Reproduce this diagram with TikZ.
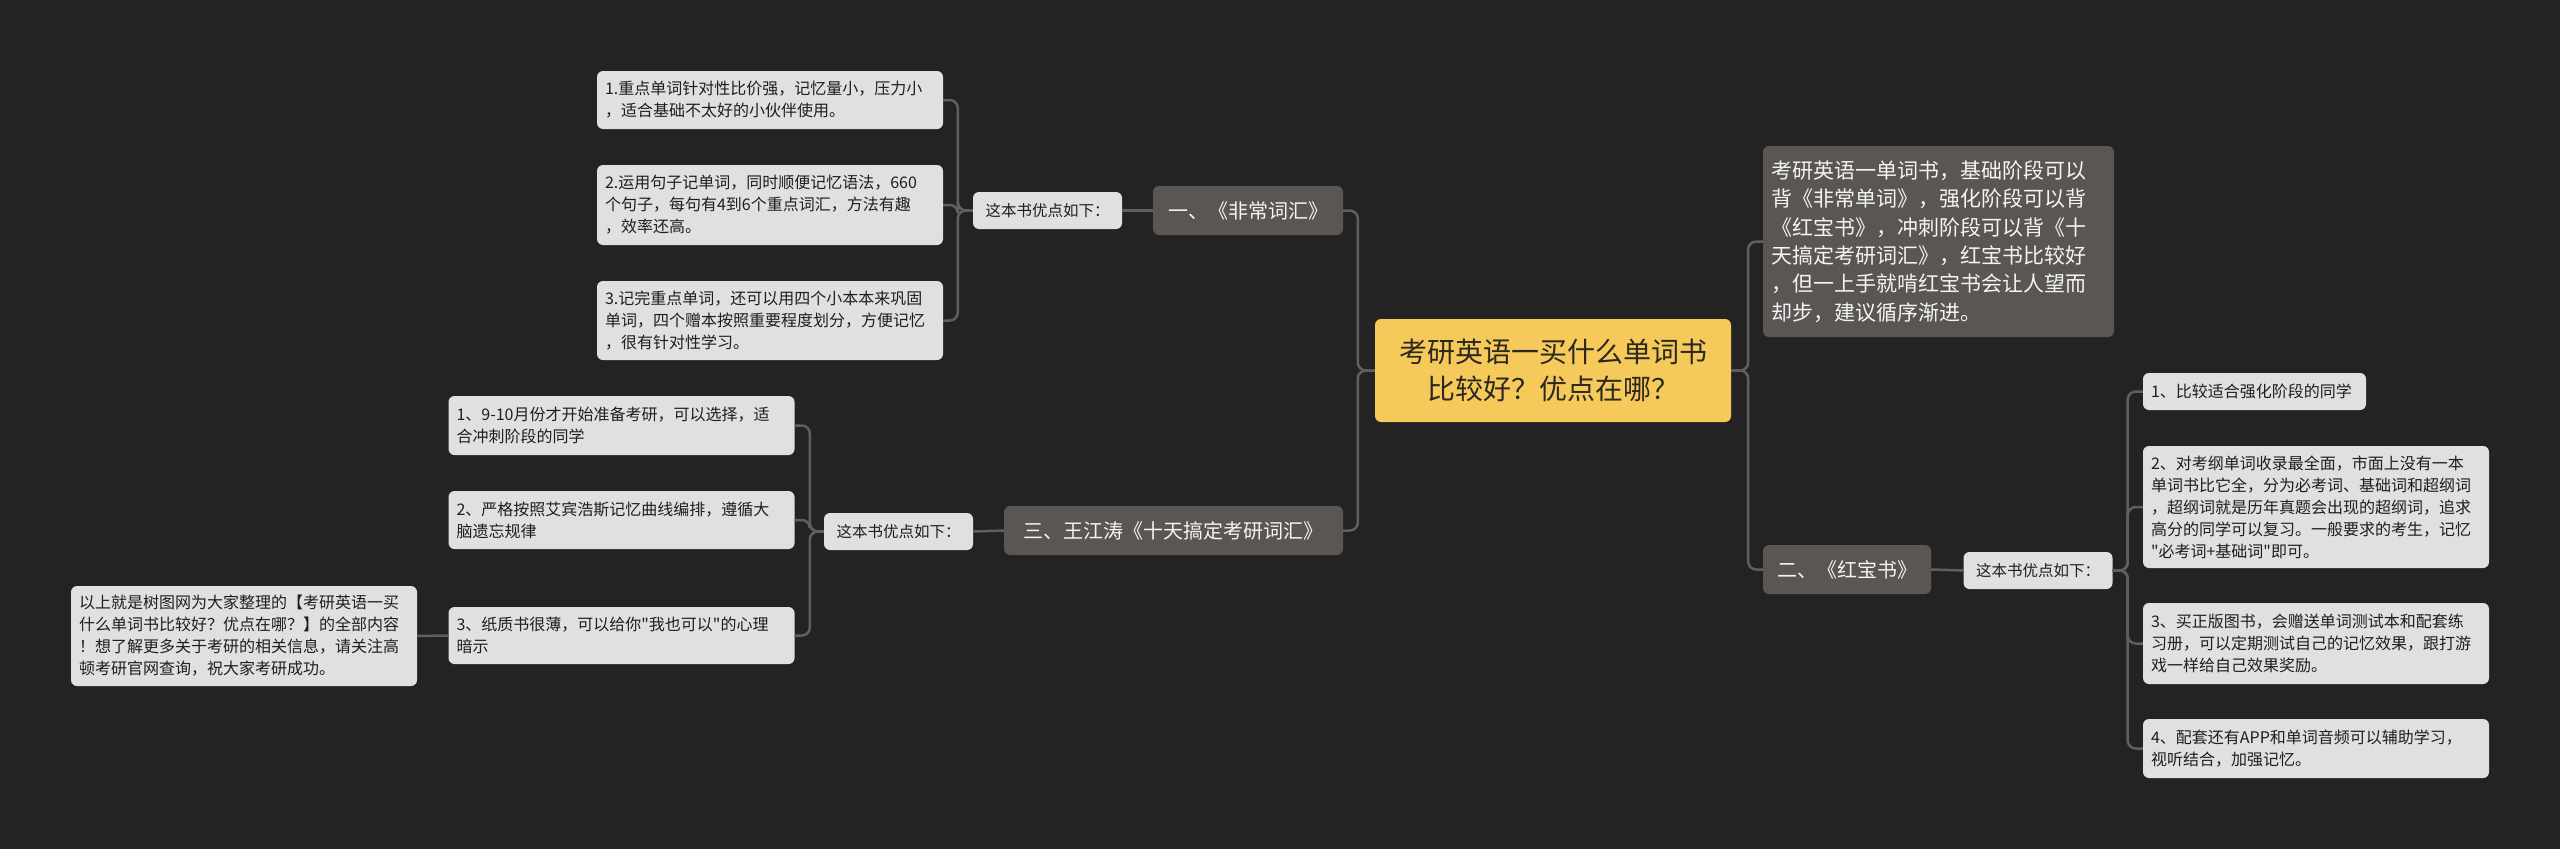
\documentclass[tikz,border=0pt]{standalone}
\usepackage{fontspec}
\setmainfont{Noto Sans CJK SC}[Ligatures=TeXOff]
\definecolor{bg}{RGB}{35,35,35}
\definecolor{linec}{RGB}{95,95,95}
\definecolor{leaffill}{RGB}{224,224,224}
\definecolor{leaftext}{RGB}{30,30,30}
\definecolor{midfill}{RGB}{89,86,83}
\definecolor{midtext}{RGB}{245,245,245}
\definecolor{rootfill}{RGB}{245,202,90}
\definecolor{roottext}{RGB}{45,40,30}
\tikzset{
  conn/.style={draw=linec, line width=2.5pt, rounded corners=8pt},
  boxbase/.style={rounded corners=6pt, anchor=center, inner ysep=0pt},
  leaf/.style={boxbase, fill=leaffill, text=leaftext, inner xsep=8pt, align=left,
    text width=330pt, font=\fontsize{16}{22}\selectfont},
  note/.style={boxbase, fill=leaffill, text=leaftext, inner xsep=8pt,
    minimum width=149pt, minimum height=37pt, font=\fontsize{15.5}{20}\selectfont},
  branch/.style={boxbase, fill=midfill, text=midtext, inner xsep=10pt,
    minimum height=49pt, font=\fontsize{20}{26}\selectfont},
  descbox/.style={boxbase, fill=midfill, text=midtext, inner xsep=8pt, align=left,
    text width=335pt, minimum height=191pt, font=\fontsize{21}{28.3}\selectfont},
  rootbox/.style={boxbase, fill=rootfill, text=roottext, align=center,
    minimum width=356pt, minimum height=103pt, font=\fontsize{28}{37}\selectfont}
}
\begin{document}
\begin{tikzpicture}[x=1pt,y=-1pt]
\fill[bg] (0,0) rectangle (2560,849);
\useasboundingbox (0,0) rectangle (2560,849);

% root
\node[rootbox] (root) at (1553,370.5) {考研英语一买什么单词书\\比较好？优点在哪？};

% right side
\node[descbox] (desc) at (1938.5,241.5) {考研英语一单词书，基础阶段可以\\背《非常单词》，强化阶段可以背\\《红宝书》，冲刺阶段可以背《十\\天搞定考研词汇》，红宝书比较好\\，但一上手就啃红宝书会让人望而\\却步，建议循序渐进。};
\node[branch, minimum width=168pt] (two) at (1847,569.5) {二、《红宝书》};
\node[note] (ntwo) at (2038,570.5) {这本书优点如下：};
\node[leaf, text width=207pt, minimum height=37pt] (r1) at (2254.5,391.5) {1、比较适合强化阶段的同学};
\node[leaf, minimum height=122pt] (r2) at (2316,507) {2、对考纲单词收录最全面，市面上没有一本\\单词书比它全，分为必考词、基础词和超纲词\\，超纲词就是历年真题会出现的超纲词，追求\\高分的同学可以复习。一般要求的考生，记忆\\"必考词+基础词"即可。};
\node[leaf, minimum height=81pt] (r3) at (2316,643.5) {3、买正版图书，会赠送单词测试本和配套练\\习册，可以定期测试自己的记忆效果，跟打游\\戏一样给自己效果奖励。};
\node[leaf, minimum height=59pt] (r4) at (2316,748.5) {4、配套还有APP和单词音频可以辅助学习，\\视听结合，加强记忆。};

% left side, branch one
\node[branch, minimum width=190pt] (one) at (1248,210.5) {一、《非常词汇》};
\node[note] (none) at (1047.5,210.5) {这本书优点如下：};
\node[leaf, minimum height=58pt] (l1a) at (770,100) {1.重点单词针对性比价强，记忆量小，压力小\\，适合基础不太好的小伙伴使用。};
\node[leaf, minimum height=80pt] (l1b) at (770,205) {2.运用句子记单词，同时顺便记忆语法，660\\个句子，每句有4到6个重点词汇，方法有趣\\，效率还高。};
\node[leaf, minimum height=79pt] (l1c) at (770,320.5) {3.记完重点单词，还可以用四个小本本来巩固\\单词，四个赠本按照重要程度划分，方便记忆\\，很有针对性学习。};

% left side, branch three
\node[branch, minimum width=339pt] (three) at (1173.5,530.5) {三、王江涛《十天搞定考研词汇》};
\node[note] (nthree) at (898.5,531.5) {这本书优点如下：};
\node[leaf, minimum height=59pt] (l3a) at (621.5,425.5) {1、9-10月份才开始准备考研，可以选择，适\\合冲刺阶段的同学};
\node[leaf, minimum height=58pt] (l3b) at (621.5,520) {2、严格按照艾宾浩斯记忆曲线编排，遵循大\\脑遗忘规律};
\node[leaf, minimum height=57pt] (l3c) at (621.5,635.5) {3、纸质书很薄，可以给你"我也可以"的心理\\暗示};
\node[leaf, minimum height=100pt] (fin) at (244,636) {以上就是树图网为大家整理的【考研英语一买\\什么单词书比较好？优点在哪？】的全部内容\\！想了解更多关于考研的相关信息，请关注高\\顿考研官网查询，祝大家考研成功。};

% connectors
\draw[conn] (root.west) -- ++(-17,0) |- (one.east);
\draw[conn] (root.west) -- ++(-17,0) |- (three.east);
\draw[conn] (root.east) -- ++(17,0) |- (desc.west);
\draw[conn] (root.east) -- ++(17,0) |- (two.west);

\draw[conn] (one.west) -- (none.east);
\draw[conn] (none.west) -- ++(-15,0) |- (l1a.east);
\draw[conn] (none.west) -- ++(-15,0) |- (l1b.east);
\draw[conn] (none.west) -- ++(-15,0) |- (l1c.east);

\draw[conn] (three.west) -- (nthree.east);
\draw[conn] (nthree.west) -- ++(-14,0) |- (l3a.east);
\draw[conn] (nthree.west) -- ++(-14,0) |- (l3b.east);
\draw[conn] (nthree.west) -- ++(-14,0) |- (l3c.east);
\draw[conn] (l3c.west) -- (fin.east);

\draw[conn] (two.east) -- (ntwo.west);
\draw[conn] (ntwo.east) -- ++(15,0) |- (r1.west);
\draw[conn] (ntwo.east) -- ++(15,0) |- (r2.west);
\draw[conn] (ntwo.east) -- ++(15,0) |- (r3.west);
\draw[conn] (ntwo.east) -- ++(15,0) |- (r4.west);
\end{tikzpicture}
\end{document}
